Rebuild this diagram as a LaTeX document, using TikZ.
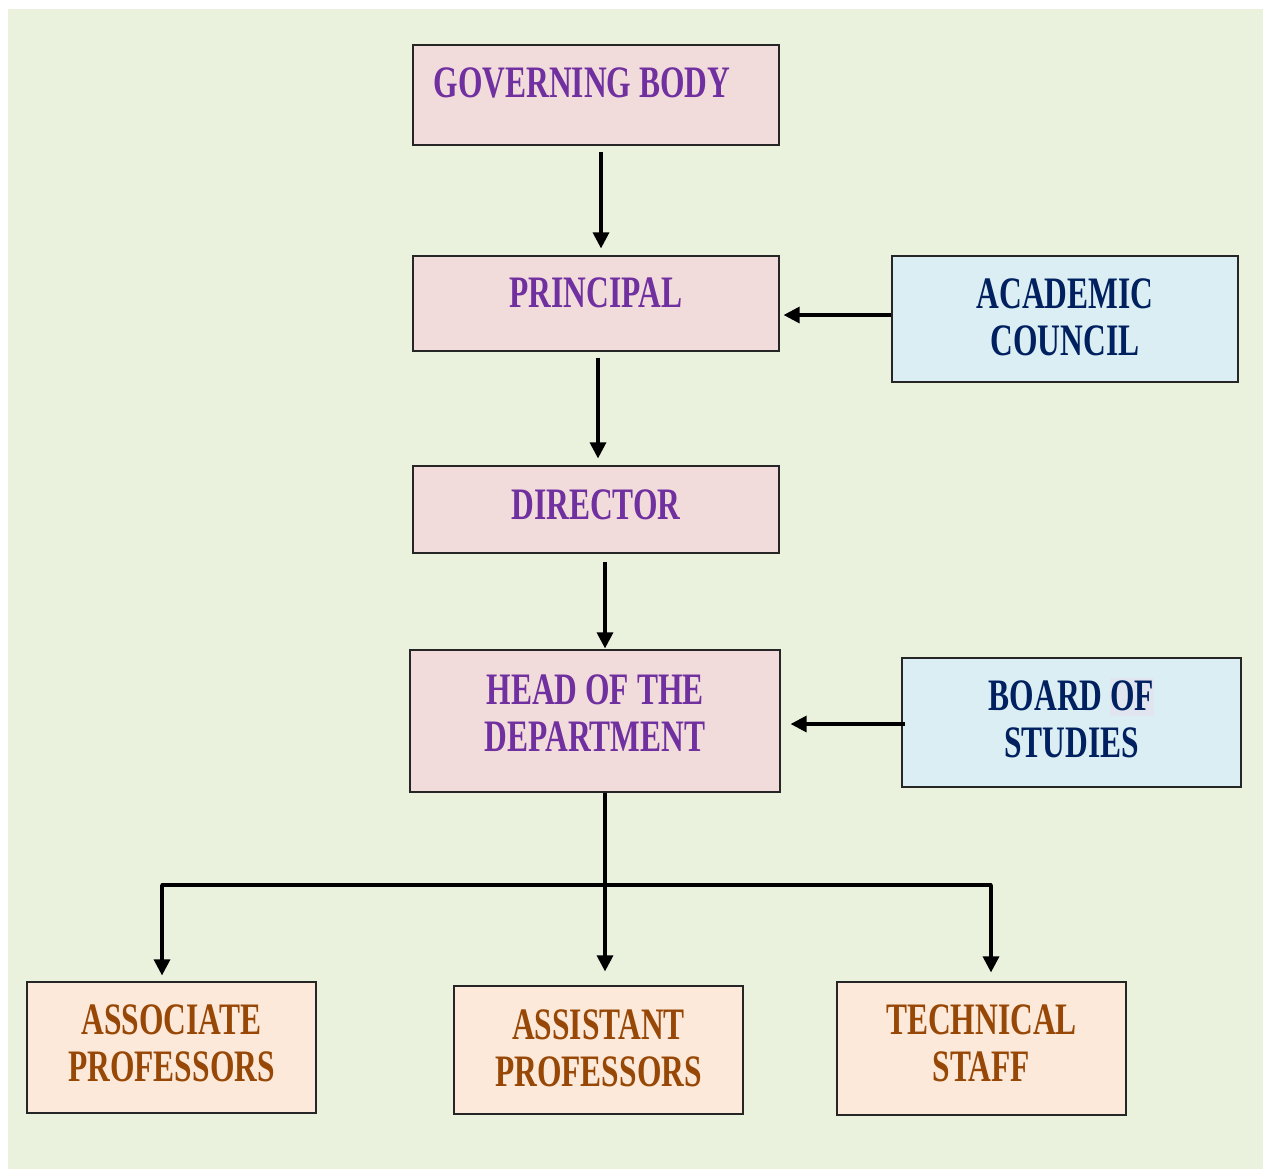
\documentclass[tikz,border=0pt]{standalone}
\usepackage{fontspec}
\newfontfamily\chartfont{Liberation Serif}[FakeStretch=0.7]
\usetikzlibrary{arrows.meta,positioning}
\definecolor{pagegreen}{HTML}{EAF1DD}
\definecolor{pinkfill}{HTML}{F2DCDB}
\definecolor{bluefill}{HTML}{DAEEF3}
\definecolor{peachfill}{HTML}{FDE9D9}
\definecolor{purpletext}{HTML}{7030A0}
\definecolor{navytext}{HTML}{002060}
\definecolor{browntext}{HTML}{984806}
\definecolor{ofmark}{HTML}{E1E5F0}
\newcommand{\liftby}[1]{\rule[-#1]{0pt}{#1}}

\begin{document}
\begin{tikzpicture}[x=0.5pt,y=-0.5pt,
  orgbox/.style={draw=black!85, line width=0.6pt, inner sep=0pt, align=center,
    font=\chartfont\bfseries\fontsize{22.5pt}{23.5pt}\selectfont},
  officebox/.style={orgbox, fill=pinkfill, text=purpletext},
  councilbox/.style={orgbox, fill=bluefill, text=navytext},
  staffbox/.style={orgbox, fill=peachfill, text=browntext},
  arr/.style={-{Triangle[width=8pt,length=8pt]}, line width=1.6pt, black}]

\useasboundingbox (0,0) rectangle (1263,1169);
\fill [pagegreen] (8,9) rectangle (1263,1169);

% offices
\node (gb) at (596,95) [officebox, minimum width=183pt, minimum height=50pt]
  {GOVERNING BODY\hspace{14pt}\liftby{12pt}};
\node (pr) at (596,303.5) [officebox, minimum width=183pt, minimum height=47.5pt]
  {PRINCIPAL\liftby{10.5pt}};
\node (dir) at (596,509.5) [officebox, minimum width=183pt, minimum height=43.5pt]
  {DIRECTOR\liftby{4.5pt}};
\node (hod) at (595,721) [officebox, minimum width=185pt, minimum height=71pt]
  {HEAD OF THE\\DEPARTMENT\liftby{7.5pt}};

% councils
\node (ac) at (1065,319) [councilbox, minimum width=173pt, minimum height=63pt]
  {ACADEMIC\\COUNCIL\liftby{1.5pt}};
\node (bos) at (1071.5,722.5) [councilbox, minimum width=169.5pt, minimum height=64.5pt]
  {BOARD {\fboxsep=0pt\smash{\colorbox{ofmark}{\rule[-2.5pt]{0pt}{19pt}OF}}}\\STUDIES\liftby{3pt}};

% staff
\node (asc) at (171.5,1047.5) [staffbox, minimum width=144.5pt, minimum height=65.5pt]
  {ASSOCIATE\\PROFESSORS\liftby{4pt}};
\node (ast) at (598.5,1050) [staffbox, minimum width=144.5pt, minimum height=64pt]
  {ASSISTANT\\PROFESSORS\liftby{2pt}};
\node (tec) at (981.5,1048.5) [staffbox, minimum width=144.5pt, minimum height=66.5pt]
  {TECHNICAL\\STAFF\liftby{5pt}};

% connectors
\coordinate (gbx) at (601,0);
\coordinate (prx) at (598,0);
\coordinate (dirx) at (605,0);
\coordinate (acy) at (0,315);
\coordinate (bosy) at (0,724);
\coordinate (bl) at (162,885);
\coordinate (br) at (991,885);

\draw [arr, shorten <=3pt, shorten >=3.5pt] (gb.south -| gbx) -- (pr.north -| gbx);
\draw [arr, shorten <=3pt, shorten >=3.5pt] (pr.south -| prx) -- (dir.north -| prx);
\draw [arr, shorten <=4pt, shorten >=0.5pt] (dir.south -| dirx) -- (hod.north -| dirx);
\draw [arr, shorten >=2pt] (ac.west |- acy) -- (pr.east |- acy);
\draw [arr, shorten <=-2pt, shorten >=5pt] (bos.west |- bosy) -- (hod.east |- bosy);

\draw [arr, shorten >=7pt] (hod.south -| dirx) -- (ast.north -| dirx);
\draw [line width=1.6pt, line cap=round] (bl) -- (br);
\draw [arr, shorten >=3pt] (bl) -- (bl |- asc.north);
\draw [arr, shorten >=4.5pt] (br) -- (br |- tec.north);

\end{tikzpicture}
\end{document}
